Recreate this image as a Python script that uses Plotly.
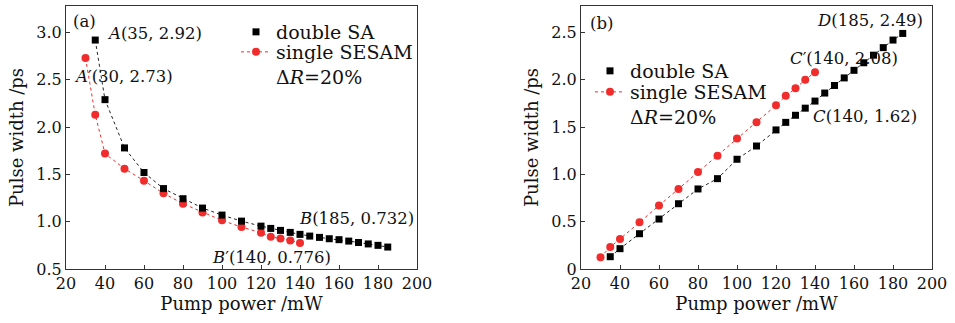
import plotly.graph_objects as go

# ---------- data ----------
# (a) pulse width vs pump power
a_double_x = [35, 40, 50, 60, 70, 80, 90, 100, 110, 120, 125, 130, 135, 140, 145, 150,
              155, 160, 165, 170, 175, 180, 185]
a_double_y = [2.92, 2.29, 1.78, 1.52, 1.35, 1.243, 1.144, 1.07, 1.006, 0.953, 0.929, 0.908,
              0.887, 0.866, 0.848, 0.834, 0.82, 0.81, 0.795, 0.78, 0.765, 0.75, 0.732]
a_single_x = [30, 35, 40, 50, 60, 70, 80, 90, 100, 110, 120, 125, 130, 135, 140]
a_single_y = [2.73, 2.13, 1.72, 1.56, 1.433, 1.30, 1.19, 1.098, 1.014, 0.943, 0.884, 0.841,
              0.823, 0.802, 0.776]

# (b)
b_double_x = [35, 40, 50, 60, 70, 80, 90, 100, 110, 120, 125, 130, 135, 140, 145, 150,
              155, 160, 165, 170, 175, 180, 185]
b_double_y = [0.13, 0.215, 0.373, 0.528, 0.69, 0.846, 0.955, 1.16, 1.30, 1.47, 1.55, 1.625,
              1.70, 1.775, 1.86, 1.94, 2.02, 2.10, 2.18, 2.26, 2.34, 2.42, 2.49]
b_single_x = [30, 35, 40, 50, 60, 70, 80, 90, 100, 110, 120, 125, 130, 135, 140]
b_single_y = [0.124, 0.232, 0.317, 0.493, 0.67, 0.846, 1.025, 1.198, 1.38, 1.55, 1.73, 1.83,
              1.91, 2.0, 2.08]

x_ticks = [20, 40, 60, 80, 100, 120, 140, 160, 180, 200]
a_y_ticks = [0.5, 1.0, 1.5, 2.0, 2.5, 3.0]
a_y_text = ["0.5", "1.0", "1.5", "2.0", "2.5", "3.0"]
b_y_ticks = [0, 0.5, 1.0, 1.5, 2.0, 2.5]
b_y_text = ["0", "0.5", "1.0", "1.5", "2.0", "2.5"]

name_double = "double SA"
name_single = "single SESAM<br>Δ<i>R</i>=20%"
x_title = "Pump power /mW"
y_title = "Pulse width /ps"

FONT = "DejaVu Serif"
BLACK = "#000000"
RED = "#f02c2c"

W, H = 955, 323
ML, MR, MT, MB = 66, 23, 6, 54
PW, PH = W - ML - MR, H - MT - MB


def px(xpix):
    return (xpix - ML) / PW


def py(ypix):
    return (H - MB - ypix) / PH


fig = go.Figure()

# ---- panel (a) ----
fig.add_trace(go.Scatter(x=a_double_x, y=a_double_y, mode="lines", showlegend=False,
                         line=dict(color="#222222", width=1, dash="dot"),
                         xaxis="x", yaxis="y", hoverinfo="skip"))
fig.add_trace(go.Scatter(x=a_single_x, y=a_single_y, mode="lines+markers", name=name_single,
                         line=dict(color=RED, width=1, dash="dot"),
                         marker=dict(symbol="circle", size=8, color=RED),
                         xaxis="x", yaxis="y", legend="legend2"))
fig.add_trace(go.Scatter(x=a_double_x, y=a_double_y, mode="markers", name=name_double,
                         marker=dict(symbol="square", size=7, color=BLACK),
                         xaxis="x", yaxis="y", legend="legend"))

# ---- panel (b) ----
fig.add_trace(go.Scatter(x=b_double_x, y=b_double_y, mode="lines", showlegend=False,
                         line=dict(color="#222222", width=1, dash="dot"),
                         xaxis="x2", yaxis="y2", hoverinfo="skip"))
fig.add_trace(go.Scatter(x=b_single_x, y=b_single_y, mode="lines+markers", name=name_single,
                         line=dict(color=RED, width=1, dash="dot"),
                         marker=dict(symbol="circle", size=8, color=RED),
                         xaxis="x2", yaxis="y2", legend="legend4"))
fig.add_trace(go.Scatter(x=b_double_x, y=b_double_y, mode="markers", name=name_double,
                         marker=dict(symbol="square", size=7, color=BLACK),
                         xaxis="x2", yaxis="y2", legend="legend3"))

TICK_FS = 16
TITLE_FS = 18
LEG_FS = 19
axis_common = dict(showline=True, linecolor="#333333", linewidth=1.2, mirror=True,
                   ticks="inside", ticklen=4, tickcolor="#333333", showgrid=False,
                   zeroline=False, automargin=False,
                   tickfont=dict(family=FONT, size=TICK_FS, color="#111111"))


def leg(xpix, ypix):
    return dict(x=px(xpix), y=py(ypix), xanchor="left", yanchor="top", valign="top",
                bgcolor="rgba(0,0,0,0)", font=dict(family=FONT, size=LEG_FS),
                tracegroupgap=0, itemwidth=30)


fig.update_layout(
    width=W, height=H,
    margin=dict(l=ML, r=MR, t=MT, b=MB, autoexpand=False),
    paper_bgcolor="white", plot_bgcolor="white",
    font=dict(family=FONT, size=16, color="#111111"),
    xaxis=dict(domain=[0, px(417)], range=[20, 200], tickvals=x_ticks,
               title=dict(text=x_title, standoff=0, font=dict(family=FONT, size=TITLE_FS)),
               anchor="y", **axis_common),
    yaxis=dict(domain=[0, 1], range=[0.5, 3.28], tickvals=a_y_ticks, ticktext=a_y_text,
               title=dict(text=y_title, standoff=7, font=dict(family=FONT, size=TITLE_FS)),
               anchor="x", **axis_common),
    xaxis2=dict(domain=[px(581), 1], range=[20, 200], tickvals=x_ticks,
                title=dict(text=x_title, standoff=0, font=dict(family=FONT, size=TITLE_FS)),
                anchor="y2", **axis_common),
    yaxis2=dict(domain=[0, 1], range=[0, 2.78], tickvals=b_y_ticks, ticktext=b_y_text,
                title=dict(text=y_title, standoff=7, font=dict(family=FONT, size=TITLE_FS)),
                anchor="x2", **axis_common),
    legend=leg(236, 13),
    legend2=leg(236, 33),
    legend3=leg(590, 52),
    legend4=leg(590, 73),
)

ann_font = dict(family=FONT, size=16.5, color="#111111")
annotations = [
    dict(text="(a)", x=px(84), y=py(22), xref="paper", yref="paper", xanchor="center"),
    dict(text="<i>A</i>(35, 2.92)", x=40, y=2.99, xref="x", yref="y", xanchor="left"),
    dict(text="<i>A</i>′(30, 2.73)", x=22.9, y=2.53, xref="x", yref="y", xanchor="left"),
    dict(text="<i>B</i>(185, 0.732)", x=138.3, y=1.03, xref="x", yref="y", xanchor="left"),
    dict(text="<i>B</i>′(140, 0.776)", x=93.8, y=0.626, xref="x", yref="y", xanchor="left"),
    dict(text="(b)", x=px(601), y=py(23), xref="paper", yref="paper", xanchor="center"),
    dict(text="<i>D</i>(185, 2.49)", x=140.1, y=2.63, xref="x2", yref="y2", xanchor="left"),
    dict(text="<i>C</i>′(140, 2.08)", x=126.4, y=2.23, xref="x2", yref="y2", xanchor="left"),
    dict(text="<i>C</i>(140, 1.62)", x=137.9, y=1.61, xref="x2", yref="y2", xanchor="left"),
]
for a in annotations:
    a.update(showarrow=False, font=ann_font, yanchor="middle")
fig.update_layout(annotations=annotations)

fig.write_html("out.html", config={"displayModeBar": False},
               post_script="document.body.style.margin='0';")
